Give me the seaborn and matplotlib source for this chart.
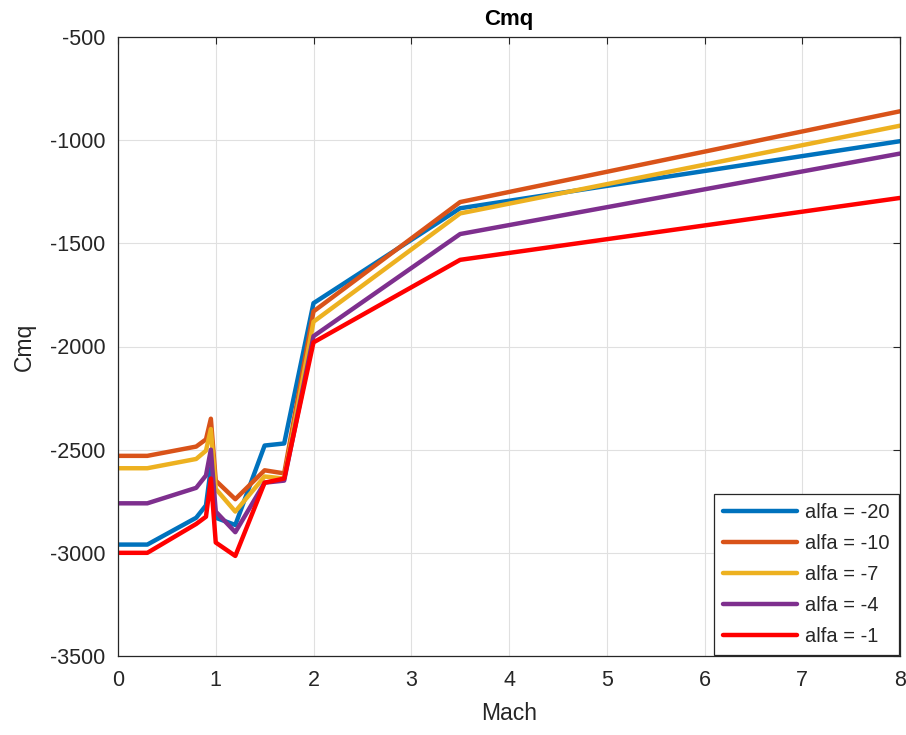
import numpy as np
import pandas as pd
import matplotlib
matplotlib.use("Agg")
import matplotlib.pyplot as plt
import seaborn as sns

mach = [0.0, 0.3, 0.8, 0.9, 0.95, 1.0, 1.2, 1.5, 1.7, 2.0, 3.5, 8.0]

cmq_alfa_m20 = [-2960, -2960, -2830, -2770, -2590, -2830, -2865, -2480, -2470, -1790, -1330, -1005]
cmq_alfa_m10 = [-2530, -2530, -2485, -2450, -2350, -2650, -2740, -2600, -2615, -1830, -1300, -860]
cmq_alfa_m7 = [-2590, -2590, -2545, -2505, -2400, -2690, -2800, -2630, -2640, -1880, -1355, -930]
cmq_alfa_m4 = [-2760, -2760, -2685, -2625, -2500, -2800, -2900, -2660, -2650, -1950, -1455, -1065]
cmq_alfa_m1 = [-3000, -3000, -2860, -2825, -2640, -2950, -3015, -2660, -2640, -1980, -1580, -1280]

labels = ["alfa = -20", "alfa = -10", "alfa = -7", "alfa = -4", "alfa = -1"]
series = [cmq_alfa_m20, cmq_alfa_m10, cmq_alfa_m7, cmq_alfa_m4, cmq_alfa_m1]
colors = ["#0072BD", "#D95319", "#EDB120", "#7E2F8E", "#FF0000"]

x_ticks = [0, 1, 2, 3, 4, 5, 6, 7, 8]
y_ticks = [-3500, -3000, -2500, -2000, -1500, -1000, -500]

df = pd.DataFrame(
    [(m, v, lab) for lab, vals in zip(labels, series) for m, v in zip(mach, vals)],
    columns=["Mach", "Cmq", "alfa"],
)

sns.set_theme(style="whitegrid")
plt.rcParams["font.family"] = ["Liberation Sans", "DejaVu Sans"]
plt.rcParams["axes.unicode_minus"] = False

fig = plt.figure(figsize=(9.06, 7.35), dpi=100)
ax = fig.add_axes([118 / 906, 1 - 656 / 735, (900 - 118) / 906, (656 - 37) / 735])

sns.lineplot(
    data=df, x="Mach", y="Cmq", hue="alfa", hue_order=labels,
    palette=colors, linewidth=3.2, ax=ax, sort=False,
)

ax.set_xlim(0, 8)
ax.set_ylim(-3500, -500)
ax.set_xticks(x_ticks)
ax.set_yticks(y_ticks)
ax.tick_params(axis="both", labelsize=15.5, colors="#262626", direction="in",
               length=5, width=0.8, top=True, right=True)
ax.tick_params(axis="x", pad=10)
ax.tick_params(axis="y", pad=9)
ax.grid(True, color="#e0e0e0", linewidth=0.8)
for side in ["left", "right", "top", "bottom"]:
    ax.spines[side].set_visible(True)
    ax.spines[side].set_color("#262626")
    ax.spines[side].set_linewidth(0.9)

ax.set_title("Cmq", fontsize=16, fontweight="bold", color="black", pad=9)
ax.set_xlabel("Mach", fontsize=16.5, color="#262626", labelpad=8)
ax.set_ylabel("Cmq", fontsize=16.5, color="#262626", labelpad=10)

leg = ax.legend(loc="lower right", fontsize=14.5, frameon=True, fancybox=False,
                handlelength=3.7, borderaxespad=0.05, labelspacing=0.6,
                handletextpad=0.4, borderpad=0.45)
leg.get_frame().set_edgecolor("#262626")
leg.get_frame().set_linewidth(0.9)
leg.get_frame().set_alpha(1.0)
for line in leg.get_lines():
    line.set_linewidth(3.2)

fig.savefig("out.png", dpi=100)
